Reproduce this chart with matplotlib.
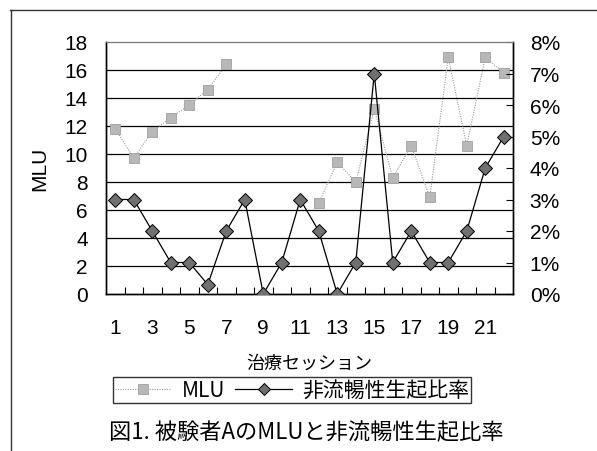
import numpy as np
import matplotlib
matplotlib.use("Agg")
import matplotlib.pyplot as plt
from matplotlib.ticker import FuncFormatter, FixedLocator
from matplotlib.lines import Line2D

sessions = np.arange(1, 23)
mlu = [11.8, 9.7, 11.6, 12.6, 13.5, 14.6, 16.4, np.nan, np.nan, np.nan, np.nan,
       6.5, 9.4, 8.0, 13.2, 8.3, 10.6, 6.9, 16.9, 10.6, 16.9, 15.8]
rate = [3, 3, 2, 1, 1, 0.3, 2, 3, 0, 1, 3, 2, 0, 1, 7, 1, 2, 1, 1, 2, 4, 5]
x_labels = [str(i) for i in range(1, 22, 2)]

plt.rcParams["font.family"] = ["Liberation Sans", "Noto Sans CJK JP", "DejaVu Sans"]
jp = ["Noto Sans CJK JP", "DejaVu Sans"]

fig = plt.figure(figsize=(5.97, 4.52), dpi=100)
ax = fig.add_axes([106 / 597, 1 - 295 / 452, 407 / 597, 252 / 452])
ax2 = ax.twinx()

# horizontal gridlines at MLU ticks
for yv in range(2, 18, 2):
    ax.axhline(yv, color="black", lw=0.9, zorder=0)

ax.plot(sessions, mlu, color="#999999", ls=(0, (1, 1.2)), lw=0.8,
        marker="s", ms=7, mfc="#b8b8b8", mec="#a0a0a0", mew=0.6, zorder=3)
ax2.plot(sessions, np.array(rate) / 100, color="black", lw=0.9,
         marker="D", ms=7, mfc="#707070", mec="black", mew=0.7, zorder=4)

ax.set_xlim(0.5, 22.5)
ax.set_ylim(0, 18)
ax2.set_ylim(0, 0.08)

ax.set_yticks(range(0, 19, 2))
ax.set_xticks(range(1, 22, 2))
ax.set_xticklabels(x_labels)
ax.xaxis.set_minor_locator(FixedLocator(np.arange(1.5, 22, 1)))
ax.tick_params(axis="x", which="major", length=0, pad=17, labelsize=15)
ax.tick_params(axis="x", which="minor", direction="in", length=5, width=0.8)
ax.tick_params(axis="y", length=0, pad=13, labelsize=15)
ax2.yaxis.set_major_formatter(FuncFormatter(lambda v, p: f"{v * 100:.0f}%"))
ax2.set_yticks(np.arange(0, 0.081, 0.01))
ax2.tick_params(axis="y", direction="in", length=5, width=0.8, pad=12, labelsize=15)

for a in (ax, ax2):
    a.spines["top"].set_linestyle((0, (1, 1)))
    a.spines["top"].set_color("#777777")
    a.spines["top"].set_linewidth(0.8)
    for s in ("left", "right", "bottom"):
        a.spines[s].set_linewidth(1.0)
        a.spines[s].set_color("black")
ax.set_zorder(ax2.get_zorder() - 1)
ax2.patch.set_visible(False)

ax.set_ylabel("MLU", fontsize=15, labelpad=11)
ax.set_xlabel("治療セッション", fontsize=13, family=jp, labelpad=12)

handles = [
    Line2D([], [], color="#999999", ls=(0, (1, 1.2)), lw=0.8, marker="s", ms=7,
           mfc="#b8b8b8", mec="#a0a0a0", mew=0.6),
    Line2D([], [], color="black", lw=0.9, marker="D", ms=6, mfc="#707070",
           mec="black", mew=0.7),
]
leg = fig.legend(handles, ["MLU", "非流暢性生起比率"], ncol=2, loc="center",
                 bbox_to_anchor=(292 / 597, 1 - 391 / 452), frameon=True,
                 fancybox=False, edgecolor="black", handlelength=2.7,
                 handletextpad=0.5, columnspacing=0.5, borderpad=0.1,
                 prop={"family": jp, "size": 15})
leg.get_frame().set_linewidth(1.0)

fig.text(306 / 597, 1 - 433 / 452, "図1. 被験者AのMLUと非流暢性生起比率",
         ha="center", va="center", fontsize=16, family=jp)

# page frame lines
fig.add_artist(Line2D([10 / 597, 1], [1 - 11 / 452] * 2, color="#333333", lw=1.0))
fig.add_artist(Line2D([11 / 597] * 2, [0, 1 - 11 / 452], color="#333333", lw=1.0))

fig.savefig("out.png", dpi=100)
